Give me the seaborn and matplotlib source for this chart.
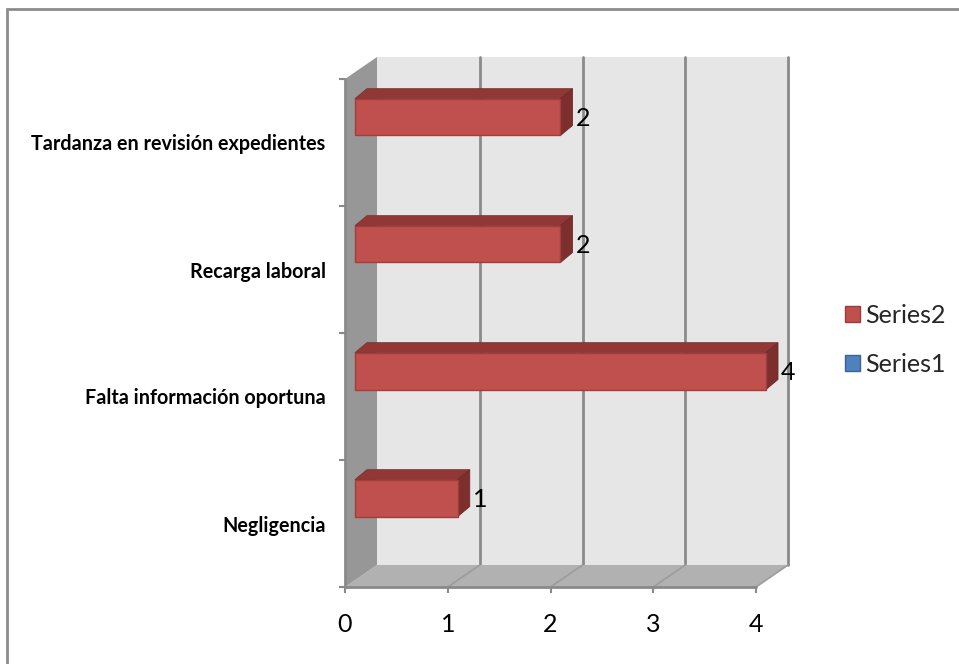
import matplotlib
matplotlib.use("Agg")
import matplotlib.pyplot as plt
from matplotlib.patches import Polygon, Rectangle, Patch
from matplotlib.lines import Line2D
import pandas as pd
import seaborn as sns

# ---- data -------------------------------------------------------------
categories = ["Tardanza en revisión expedientes", "Recarga laboral",
              "Falta información oportuna", "Negligencia"]
series2 = [2, 2, 4, 1]
series1 = [0, 0, 0, 0]
series_names = ["Series2", "Series1"]
series_colors = ["#C0504D", "#4F81BD"]
x_ticks = [0, 1, 2, 3, 4]

df = pd.DataFrame({
    "categoria": categories * 2,
    "valor": series2 + series1,
    "serie": [series_names[0]] * len(categories) + [series_names[1]] * len(categories),
})

sns.set_theme(style="white")
plt.rcParams["font.family"] = ["Lato", "DejaVu Sans"]

W, H, DPI = 959, 664, 100
fig = plt.figure(figsize=(W / DPI, H / DPI), dpi=DPI)
fig.patch.set_facecolor("white")

# front plane of the 3-D box (pixels)
L, R, T, B = 345, 756, 79, 587
ax = fig.add_axes([L / W, 1 - B / H, (R - L) / W, (B - T) / H])
ax.set_facecolor("none")

sns.barplot(data=df, y="categoria", x="valor", hue="serie", hue_order=series_names,
            order=categories, palette=series_colors, width=0.58, orient="h",
            saturation=1, legend=False, ax=ax)

xmax = x_ticks[-1]
n = len(categories)
ax.set_xlim(0, xmax)
ax.set_ylim(n - 0.5, -0.5)

# pixel -> data conversion (screen y grows downward, as does the inverted axis)
ux = xmax / (R - L)
uy = n / (B - T)
def d(px, py):
    return px * ux, py * uy

wdx, wdy = d(32, -22)    # depth of the walls
sdx, sdy = d(10, -7)     # bars sit a little behind the front plane
bdx, bdy = d(12, -10)    # depth of each bar

ytop, ybot = -0.5, n - 0.5
wall_kw = dict(clip_on=False, lw=0)

# back wall
ax.add_patch(Rectangle((wdx, ytop + wdy), xmax, n, fc="#E6E6E6", zorder=0.5, **wall_kw))
# floor
ax.add_patch(Polygon([(0, ybot), (xmax, ybot), (xmax + wdx, ybot + wdy), (wdx, ybot + wdy)],
                     closed=True, fc="#B1B1B1", zorder=0.6, **wall_kw))
# left wall
ax.add_patch(Polygon([(0, ytop), (wdx, ytop + wdy), (wdx, ybot + wdy), (0, ybot)],
                     closed=True, fc="#979797", zorder=0.7, **wall_kw))

grid_c = "#8A8A8A"
for v in x_ticks[1:]:
    ax.add_line(Line2D([v + wdx, v + wdx], [ytop + wdy, ybot + wdy], color=grid_c,
                       lw=2, zorder=0.55, clip_on=False))
    ax.add_line(Line2D([v, v + wdx], [ybot, ybot + wdy], color="#9C9C9C",
                       lw=1.2, zorder=0.65, clip_on=False))

# front edges of the box
ax.add_line(Line2D([0, xmax], [ybot, ybot], color=grid_c, lw=2, zorder=0.9, clip_on=False))
ax.add_line(Line2D([0, 0], [ytop, ybot], color=grid_c, lw=2, zorder=0.9, clip_on=False))

# 3-D bars built from the seaborn patches
bars = [p for p in ax.patches if isinstance(p, Rectangle) and p.get_zorder() >= 1]
for p in list(ax.patches):
    if p in bars:
        x0, y0, w, h = p.get_x(), p.get_y(), p.get_width(), p.get_height()
        if w <= 0:
            p.set_visible(False)
            continue
        x0n, y0n = x0 + sdx, y0 + sdy
        x1n, y1n = x0n + w, y0n + h
        p.set_x(x0n)
        p.set_y(y0n)
        p.set_edgecolor("#A13E3B")
        p.set_linewidth(1)
        p.set_zorder(3)
        p.set_clip_on(False)
        ax.add_patch(Polygon([(x0n, y0n), (x1n, y0n), (x1n + bdx, y0n + bdy), (x0n + bdx, y0n + bdy)],
                             closed=True, fc="#913836", ec="#7E302E", lw=0.6, zorder=2.5, clip_on=False))
        ax.add_patch(Polygon([(x1n, y0n), (x1n, y1n), (x1n + bdx, y1n + bdy), (x1n + bdx, y0n + bdy)],
                             closed=True, fc="#7C2F2D", ec="#6E2A28", lw=0.6, zorder=2.5, clip_on=False))
        ax.annotate(f"{w:g}", xy=(x1n, (y0n + y1n) / 2), xytext=(12 + 3, -1),
                    textcoords="offset pixels", ha="left", va="center",
                    fontsize=18, color="black", zorder=4, annotation_clip=False)

# axes, ticks and labels
for s in ax.spines.values():
    s.set_visible(False)
ax.set_xlabel("")
ax.set_ylabel("")
ax.set_xticks(x_ticks)
ax.set_xticklabels([str(t) for t in x_ticks])
ax.set_yticks(range(n))
ax.set_yticklabels(categories, fontweight="bold")
ax.set_yticks([i - 0.5 for i in range(n + 1)], minor=True)
ax.tick_params(axis="y", which="major", length=0, pad=14, labelsize=14.2, labelcolor="black")
ax.tick_params(axis="y", which="minor", length=4.5, width=1.5, color=grid_c, direction="out", left=True)
ax.tick_params(axis="x", which="major", length=4.5, width=1.5, color=grid_c, direction="out",
               bottom=True, pad=14, labelsize=18, labelcolor="black")

# legend
handles = [Patch(fc=series_colors[0], ec="#9B3C3A", lw=1),
           Patch(fc=series_colors[1], ec="#3A6391", lw=1)]
fig.legend(handles, series_names, loc="center left", bbox_to_anchor=(835 / W, 1 - 340 / H),
           frameon=False, fontsize=18, handlelength=0.6, handleheight=0.6,
           handletextpad=0.2, labelspacing=1.05, borderaxespad=0)

# chart-area border
fig.add_artist(Rectangle((7 / W, -0.5), 2, 1 - 9 / H + 0.5, transform=fig.transFigure,
                         fill=False, ec="#8C8C8C", lw=2, clip_on=False))

fig.savefig("out.png", dpi=DPI, facecolor="white")
